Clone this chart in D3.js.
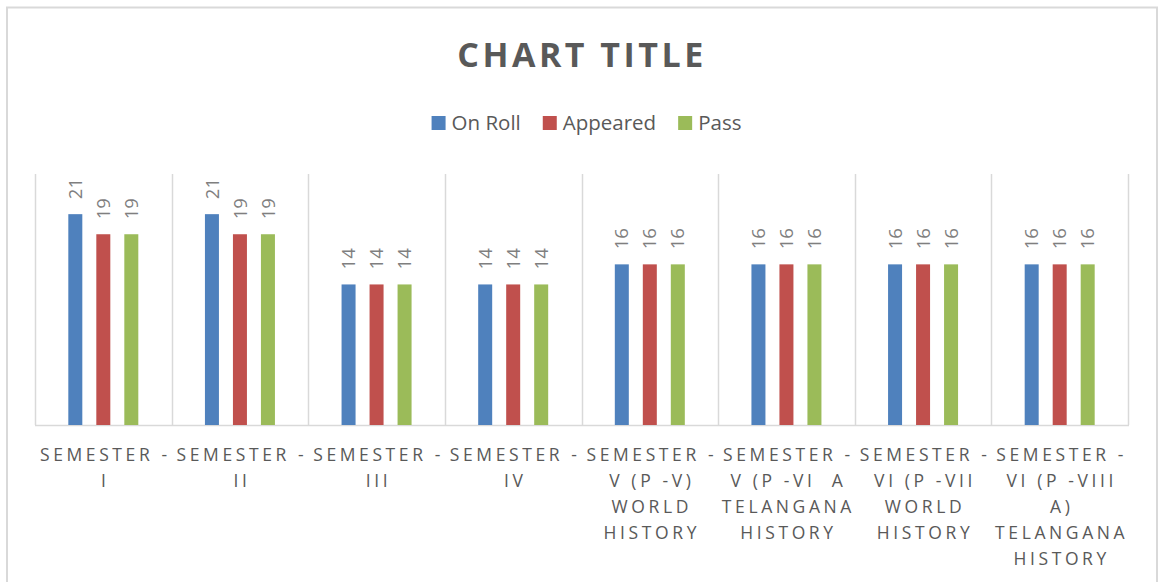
<!DOCTYPE html>
<html>
<head>
<meta charset="utf-8">
<script src="https://cdn.jsdelivr.net/npm/d3@7"></script>
<style>
  body { margin: 0; background: #fff; }
  text { font-family: "Open Sans", sans-serif; }
</style>
</head>
<body>
<div id="container"></div>
<script>
// chart data
const categories = [
  ["SEMESTER -", "I"],
  ["SEMESTER -", "II"],
  ["SEMESTER -", "III"],
  ["SEMESTER -", "IV"],
  ["SEMESTER -", "V (P -V)", "WORLD", "HISTORY"],
  ["SEMESTER -", "V (P -VI  A", "TELANGANA", "HISTORY"],
  ["SEMESTER -", "VI (P -VII", "WORLD", "HISTORY"],
  ["SEMESTER -", "VI (P -VIII", "A)", "TELANGANA", "HISTORY"]
];
const seriesNames = ["On Roll", "Appeared", "Pass"];
const onRoll = [21, 21, 14, 14, 16, 16, 16, 16];
const appeared = [19, 19, 14, 14, 16, 16, 16, 16];
const pass = [19, 19, 14, 14, 16, 16, 16, 16];
const seriesValues = [onRoll, appeared, pass];
const colors = ["#4f81bd", "#c0504d", "#9bbb59"];

const width = 1159,
  height = 582;
const plot = { left: 35, right: 1128, top: 174, bottom: 425 };

const svg = d3
  .select("#container")
  .append("svg")
  .attr("width", width)
  .attr("height", height);

// outer chart border
svg
  .append("rect")
  .attr("x", 7)
  .attr("y", 7.5)
  .attr("width", 1150)
  .attr("height", 600)
  .attr("fill", "none")
  .attr("stroke", "#d9d9d9")
  .attr("stroke-width", 2);

const x = d3
  .scaleBand()
  .domain(d3.range(categories.length))
  .range([plot.left, plot.right])
  .padding(0);

const inner = d3
  .scaleBand()
  .domain(seriesNames)
  .range([-42, 42])
  .paddingInner(0.5)
  .paddingOuter(0.25);

const y = d3.scaleLinear().domain([0, 25]).range([plot.bottom, plot.top]);

// vertical gridlines between categories
const bounds = d3.range(categories.length + 1).map((i) =>
  i < categories.length ? x(i) : plot.right
);
svg
  .append("g")
  .selectAll("line")
  .data(bounds)
  .enter()
  .append("line")
  .attr("x1", (d) => Math.round(d) + 0.5)
  .attr("x2", (d) => Math.round(d) + 0.5)
  .attr("y1", plot.top)
  .attr("y2", plot.bottom)
  .attr("stroke", "#d9d9d9")
  .attr("stroke-width", 1.5);

// baseline
svg
  .append("line")
  .attr("x1", plot.left)
  .attr("x2", plot.right + 1)
  .attr("y1", y(0) + 0.5)
  .attr("y2", y(0) + 0.5)
  .attr("stroke", "#d9d9d9")
  .attr("stroke-width", 1.5);

// bars + value labels
const groups = svg
  .selectAll(".cat")
  .data(categories)
  .enter()
  .append("g")
  .attr("class", "cat")
  .attr("transform", (d, i) => `translate(${x(i) + x.bandwidth() / 2},0)`);

groups.each(function (c, i) {
  const g = d3.select(this);
  seriesNames.forEach((s, k) => {
    const v = seriesValues[k][i];
    g.append("rect")
      .attr("x", inner(s))
      .attr("y", y(v))
      .attr("width", inner.bandwidth())
      .attr("height", y(0) - y(v))
      .attr("fill", colors[k]);
    const cx = inner(s) + inner.bandwidth() / 2;
    const ty = y(v) - 15;
    g.append("text")
      .attr("transform", `translate(${cx},${ty}) rotate(-90)`)
      .attr("dy", "0.36em")
      .attr("font-size", 18.5)
      .attr("fill", "#7f7f7f")
      .text(v);
  });

  // category label lines
  const t = g
    .append("text")
    .attr("text-anchor", "middle")
    .attr("font-size", 17.5)
    .attr("letter-spacing", "3.6px")
    .attr("fill", "#595959");
  c.forEach((line, j) => {
    t.append("tspan")
      .attr("x", 2)
      .attr("y", 461 + j * 26)
      .attr("xml:space", "preserve")
      .style("white-space", "pre")
      .text(line);
  });
});

// title
svg
  .append("text")
  .attr("x", 582)
  .attr("y", 67)
  .attr("text-anchor", "middle")
  .attr("font-size", 34)
  .attr("font-weight", "bold")
  .attr("letter-spacing", "3.5px")
  .attr("fill", "#595959")
  .text("CHART TITLE");

// legend
const legend = svg.append("g");
let lx = 0;
seriesNames.forEach((s, k) => {
  const item = legend.append("g").attr("transform", `translate(${lx},0)`);
  item
    .append("rect")
    .attr("x", 0)
    .attr("y", 116)
    .attr("width", 14)
    .attr("height", 14)
    .attr("fill", colors[k]);
  const txt = item
    .append("text")
    .attr("x", 20)
    .attr("y", 130)
    .attr("font-size", 20.5)
    .attr("fill", "#595959")
    .text(s);
  lx += 20 + txt.node().getComputedTextLength() + 22;
});
const legendW = lx - 22;
legend.attr("transform", `translate(${586.5 - legendW / 2},0)`);
</script>
</body>
</html>
